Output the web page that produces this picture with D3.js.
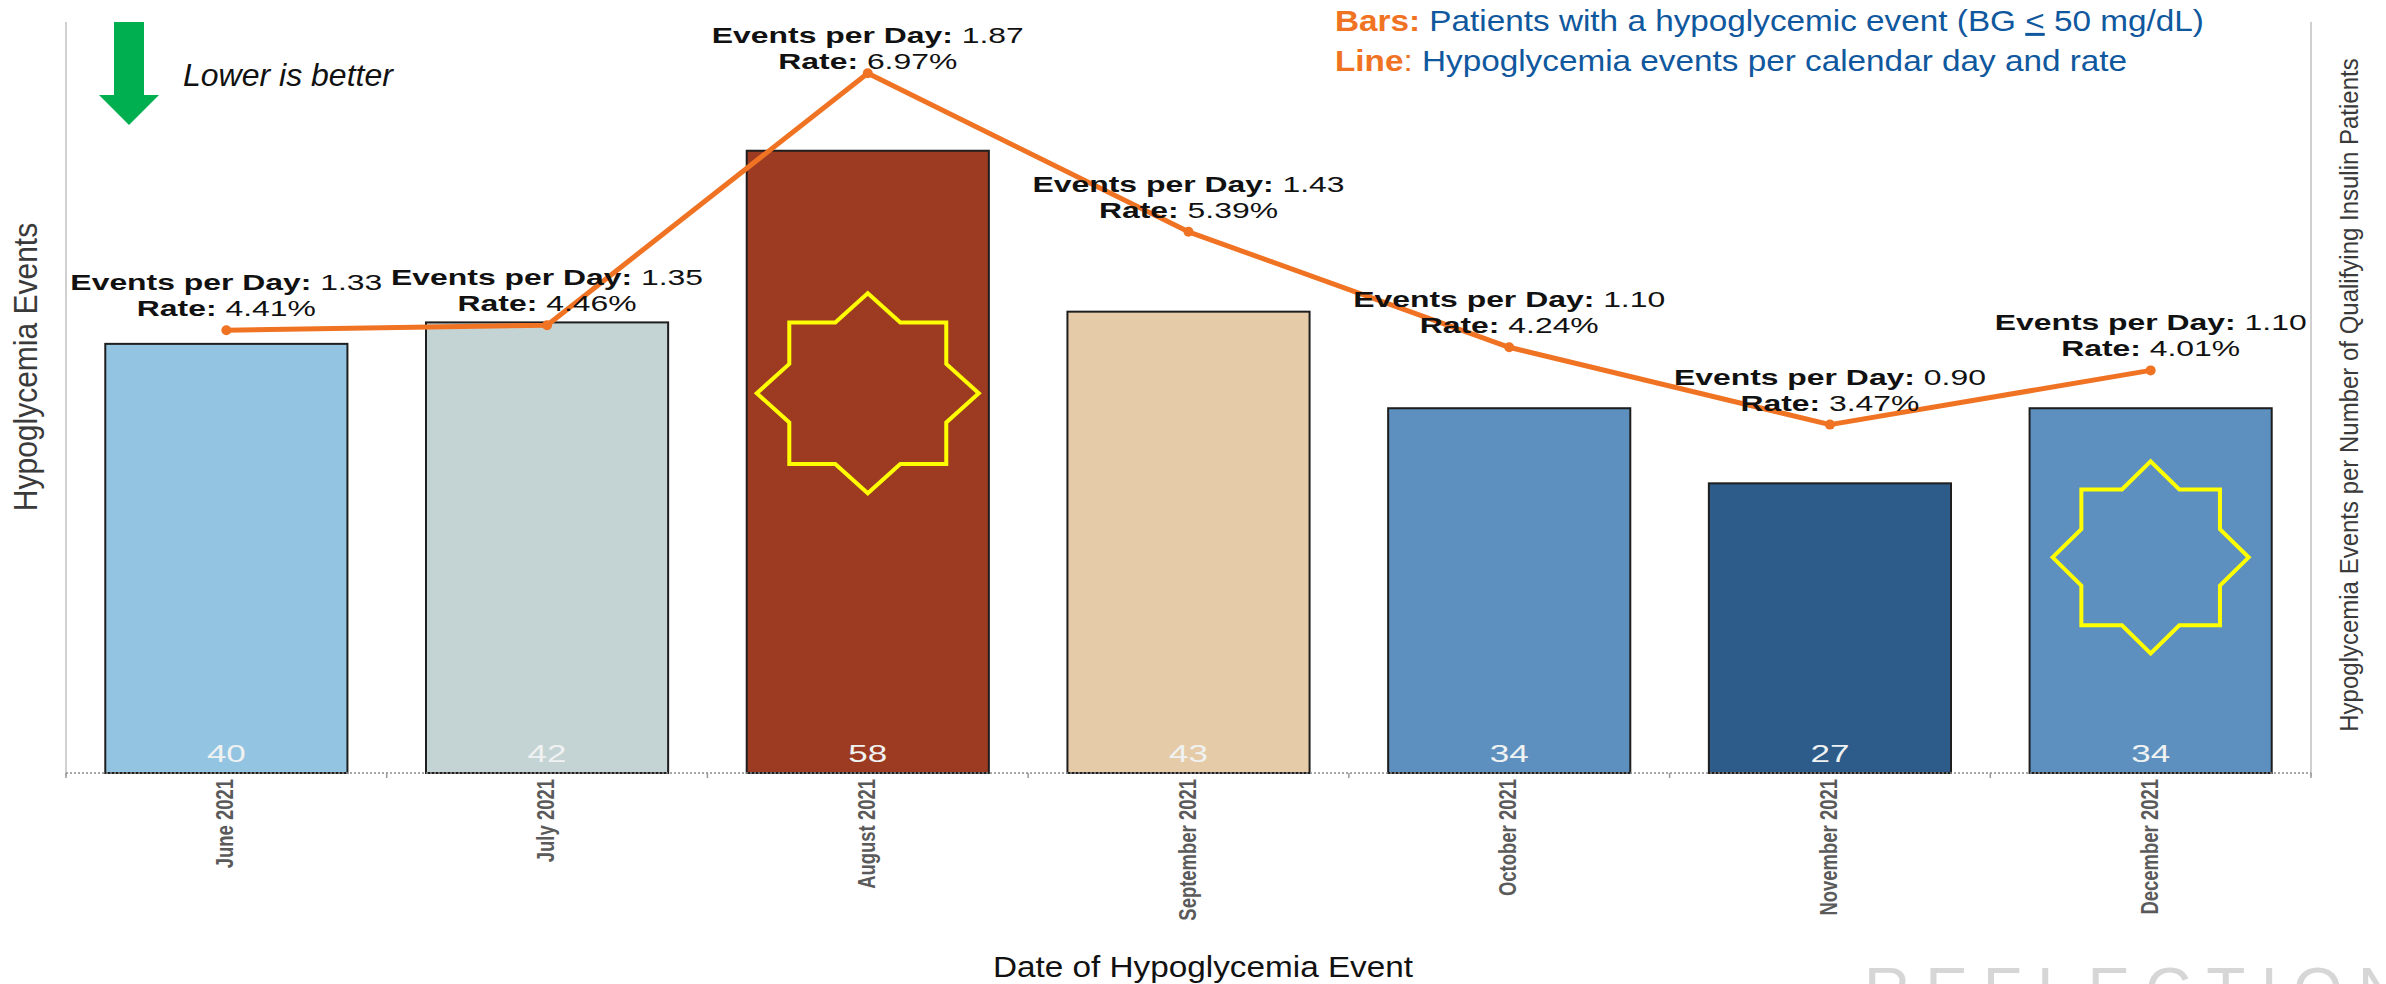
<!DOCTYPE html>
<html>
<head>
<meta charset="utf-8">
<script src="https://cdn.jsdelivr.net/npm/d3@7"></script>
<style>
  html, body { margin: 0; padding: 0; background: #ffffff; }
  svg { display: block; }
  text { font-family: "Liberation Sans", Arial, sans-serif; }
</style>
</head>
<body>
<svg id="chart" width="2386" height="984"></svg>
<script>
// Monthly hypoglycemia summary
const months = ["June 2021", "July 2021", "August 2021", "September 2021", "October 2021", "November 2021", "December 2021"];
const patients = [40, 42, 58, 43, 34, 27, 34];            // bars
const eventsPerDay = [1.33, 1.35, 1.87, 1.43, 1.10, 0.90, 1.10];
const ratePct = [4.41, 4.46, 6.97, 5.39, 4.24, 3.47, 4.01]; // line
const barColors = ["#93c4e2", "#c4d3d3", "#9c3b22", "#e5cba7", "#5d90bf", "#2d5c8a", "#5d90bf"];

// highlight stars drawn over selected bars (level in bar units)
const stars = [
  { month: "August 2021", level: 35.4, rx: 111, ry: 100 },
  { month: "December 2021", level: 20.1, rx: 98, ry: 96 }
];

const W = 2386, H = 984;
const plot = { left: 66, right: 2311, top: 22, bottom: 773 };
const ORANGE = "#f07323", BLUE = "#10589e";

const svg = d3.select("#chart");
svg.append("rect").attr("width", W).attr("height", H).attr("fill", "#fff");

const x = d3.scaleBand().domain(months).range([plot.left, plot.right])
  .paddingInner(0.245).paddingOuter(0.1225);
const y = d3.scaleLinear().domain([0, 70]).range([plot.bottom, plot.top]);
const yRate = d3.scaleLinear().domain([0, 7.48]).range([plot.bottom, plot.top]);
const cx = m => x(m) + x.bandwidth() / 2;

// frame lines
svg.append("line").attr("x1", plot.left).attr("x2", plot.left)
  .attr("y1", plot.top).attr("y2", plot.bottom + 3)
  .attr("stroke", "#d0d0d0").attr("stroke-width", 2);
svg.append("line").attr("x1", plot.right).attr("x2", plot.right)
  .attr("y1", plot.top).attr("y2", plot.bottom + 3)
  .attr("stroke", "#d0d0d0").attr("stroke-width", 2);

// bars
const data = months.map((m, i) => ({ m, v: patients[i], epd: eventsPerDay[i], rate: ratePct[i], color: barColors[i] }));
svg.append("g").selectAll("rect").data(data).join("rect")
  .attr("x", d => x(d.m)).attr("width", x.bandwidth())
  .attr("y", d => y(d.v)).attr("height", d => y(0) - y(d.v))
  .attr("fill", d => d.color).attr("stroke", "#1e1e1e").attr("stroke-width", 2);

// bar value labels
svg.append("g").selectAll("g").data(data).join("g")
  .attr("transform", d => `translate(${cx(d.m)},${y(0) - 11}) scale(1.46,1)`)
  .append("text").attr("text-anchor", "middle").attr("font-size", 24)
  .attr("fill", "#f0f2f2").text(d => d.v);

// stars
function starPath(rx, ry) {
  const pts = [];
  const inner = Math.cos(Math.PI / 4) / Math.cos(Math.PI / 8);
  for (let k = 0; k < 16; k++) {
    const a = -Math.PI / 2 + k * Math.PI / 8;
    const r = k % 2 === 0 ? 1 : inner;
    pts.push([Math.cos(a) * r * rx, Math.sin(a) * r * ry]);
  }
  return "M" + pts.map(p => p.join(",")).join("L") + "Z";
}
svg.append("g").selectAll("path").data(stars).join("path")
  .attr("transform", d => `translate(${cx(d.month)},${y(d.level)})`)
  .attr("d", d => starPath(d.rx, d.ry))
  .attr("fill", "none").attr("stroke", "#ffff00").attr("stroke-width", 4)
  .attr("stroke-linejoin", "miter");

// x axis: dotted baseline, boundary ticks, rotated month labels
svg.append("line").attr("x1", plot.left).attr("x2", plot.right)
  .attr("y1", plot.bottom).attr("y2", plot.bottom)
  .attr("stroke", "#8a8a8a").attr("stroke-width", 1.5).attr("stroke-dasharray", "2,2");
const step = x.step();
const bounds = months.map((m, i) => plot.left + i * step).concat([plot.right]);
svg.append("g").selectAll("line").data(bounds).join("line")
  .attr("x1", d => d).attr("x2", d => d)
  .attr("y1", plot.bottom).attr("y2", plot.bottom + 5)
  .attr("stroke", "#9a9a9a").attr("stroke-width", 1.5);

const xAxis = d3.axisBottom(x).tickSize(0).tickPadding(0);
const gx = svg.append("g").attr("transform", `translate(0,${plot.bottom})`).call(xAxis);
gx.select(".domain").remove();
gx.selectAll(".tick text")
  .attr("transform", "translate(7,6) rotate(-90) scale(0.88,1.1)")
  .attr("text-anchor", "end").attr("dy", 0).attr("y", 0).attr("x", 0)
  .attr("font-size", 21).attr("font-weight", "bold").attr("fill", "#5a5a5a")
  .attr("font-family", "'Liberation Sans', Arial, sans-serif");

// rate line
const line = d3.line().x(d => cx(d.m)).y(d => yRate(d.rate));
svg.append("path").datum(data).attr("d", line)
  .attr("fill", "none").attr("stroke", ORANGE).attr("stroke-width", 5)
  .attr("stroke-linejoin", "round");
svg.append("g").selectAll("circle").data(data).join("circle")
  .attr("cx", d => cx(d.m)).attr("cy", d => yRate(d.rate)).attr("r", 5)
  .attr("fill", ORANGE);

// point labels
const lbl = svg.append("g").selectAll("g").data(data).join("g");
lbl.each(function (d) {
  const g = d3.select(this);
  const px = cx(d.m), py = yRate(d.rate);
  const b1 = Math.max(py - 40, 43), b2 = b1 + 26;
  const t1 = g.append("g").attr("transform", `translate(${px},${b1}) scale(1.45,1)`)
    .append("text").attr("text-anchor", "middle").attr("font-size", 22).attr("fill", "#111");
  t1.append("tspan").attr("font-weight", "bold").text("Events per Day:");
  t1.append("tspan").text(" " + d3.format(".2f")(d.epd));
  const t2 = g.append("g").attr("transform", `translate(${px},${b2}) scale(1.45,1)`)
    .append("text").attr("text-anchor", "middle").attr("font-size", 22).attr("fill", "#111");
  t2.append("tspan").attr("font-weight", "bold").text("Rate:");
  t2.append("tspan").text(" " + d3.format(".2f")(d.rate) + "%");
});

// axis titles
svg.append("g").attr("transform", `translate(37,367) rotate(-90) scale(1,1.1)`)
  .append("text").attr("text-anchor", "middle").attr("font-size", 30).attr("fill", "#3a3a3a")
  .text("Hypoglycemia Events");
svg.append("g").attr("transform", `translate(2358,395) rotate(-90) scale(1,1.1)`)
  .append("text").attr("text-anchor", "middle").attr("font-size", 24).attr("fill", "#3a3a3a")
  .text("Hypoglycemia Events per Number of Qualifying Insulin Patients");
svg.append("g").attr("transform", `translate(1203,977) scale(1.11,1)`)
  .append("text").attr("text-anchor", "middle").attr("font-size", 30).attr("fill", "#111")
  .text("Date of Hypoglycemia Event");

// "lower is better" cue
const arrow = { x: 129, top: 22, shaftW: 30, headW: 60, headTop: 95, tip: 125 };
svg.append("path")
  .attr("d", `M${arrow.x - arrow.shaftW / 2},${arrow.top} L${arrow.x + arrow.shaftW / 2},${arrow.top}
    L${arrow.x + arrow.shaftW / 2},${arrow.headTop} L${arrow.x + arrow.headW / 2},${arrow.headTop}
    L${arrow.x},${arrow.tip} L${arrow.x - arrow.headW / 2},${arrow.headTop}
    L${arrow.x - arrow.shaftW / 2},${arrow.headTop} Z`)
  .attr("fill", "#00b050");
svg.append("text").attr("x", 183).attr("y", 86).attr("font-size", 32)
  .attr("font-style", "italic").attr("fill", "#111").text("Lower is better");

// legend
const leg1 = svg.append("g").attr("transform", "translate(1335,31) scale(1.11,1)")
  .append("text").attr("font-size", 30);
leg1.append("tspan").attr("fill", ORANGE).attr("font-weight", "bold").text("Bars:");
leg1.append("tspan").attr("fill", BLUE).text(" Patients with a hypoglycemic event (BG ");
leg1.append("tspan").attr("fill", BLUE).style("text-decoration", "underline").text("<");
leg1.append("tspan").attr("fill", BLUE).text(" 50 mg/dL)");
const leg2 = svg.append("g").attr("transform", "translate(1335,71) scale(1.11,1)")
  .append("text").attr("font-size", 30);
leg2.append("tspan").attr("fill", ORANGE).attr("font-weight", "bold").text("Line");
leg2.append("tspan").attr("fill", ORANGE).text(":");
leg2.append("tspan").attr("fill", BLUE).text(" Hypoglycemia events per calendar day and rate");

// watermark
svg.append("text").attr("x", 1864).attr("y", 1013).attr("font-size", 64)
  .attr("font-family", "Lato, 'Liberation Sans', sans-serif").attr("font-weight", 300)
  .attr("fill", "#d6d6d6").attr("textLength", 540).attr("lengthAdjust", "spacing")
  .text("REFLECTION");
</script>
</body>
</html>
